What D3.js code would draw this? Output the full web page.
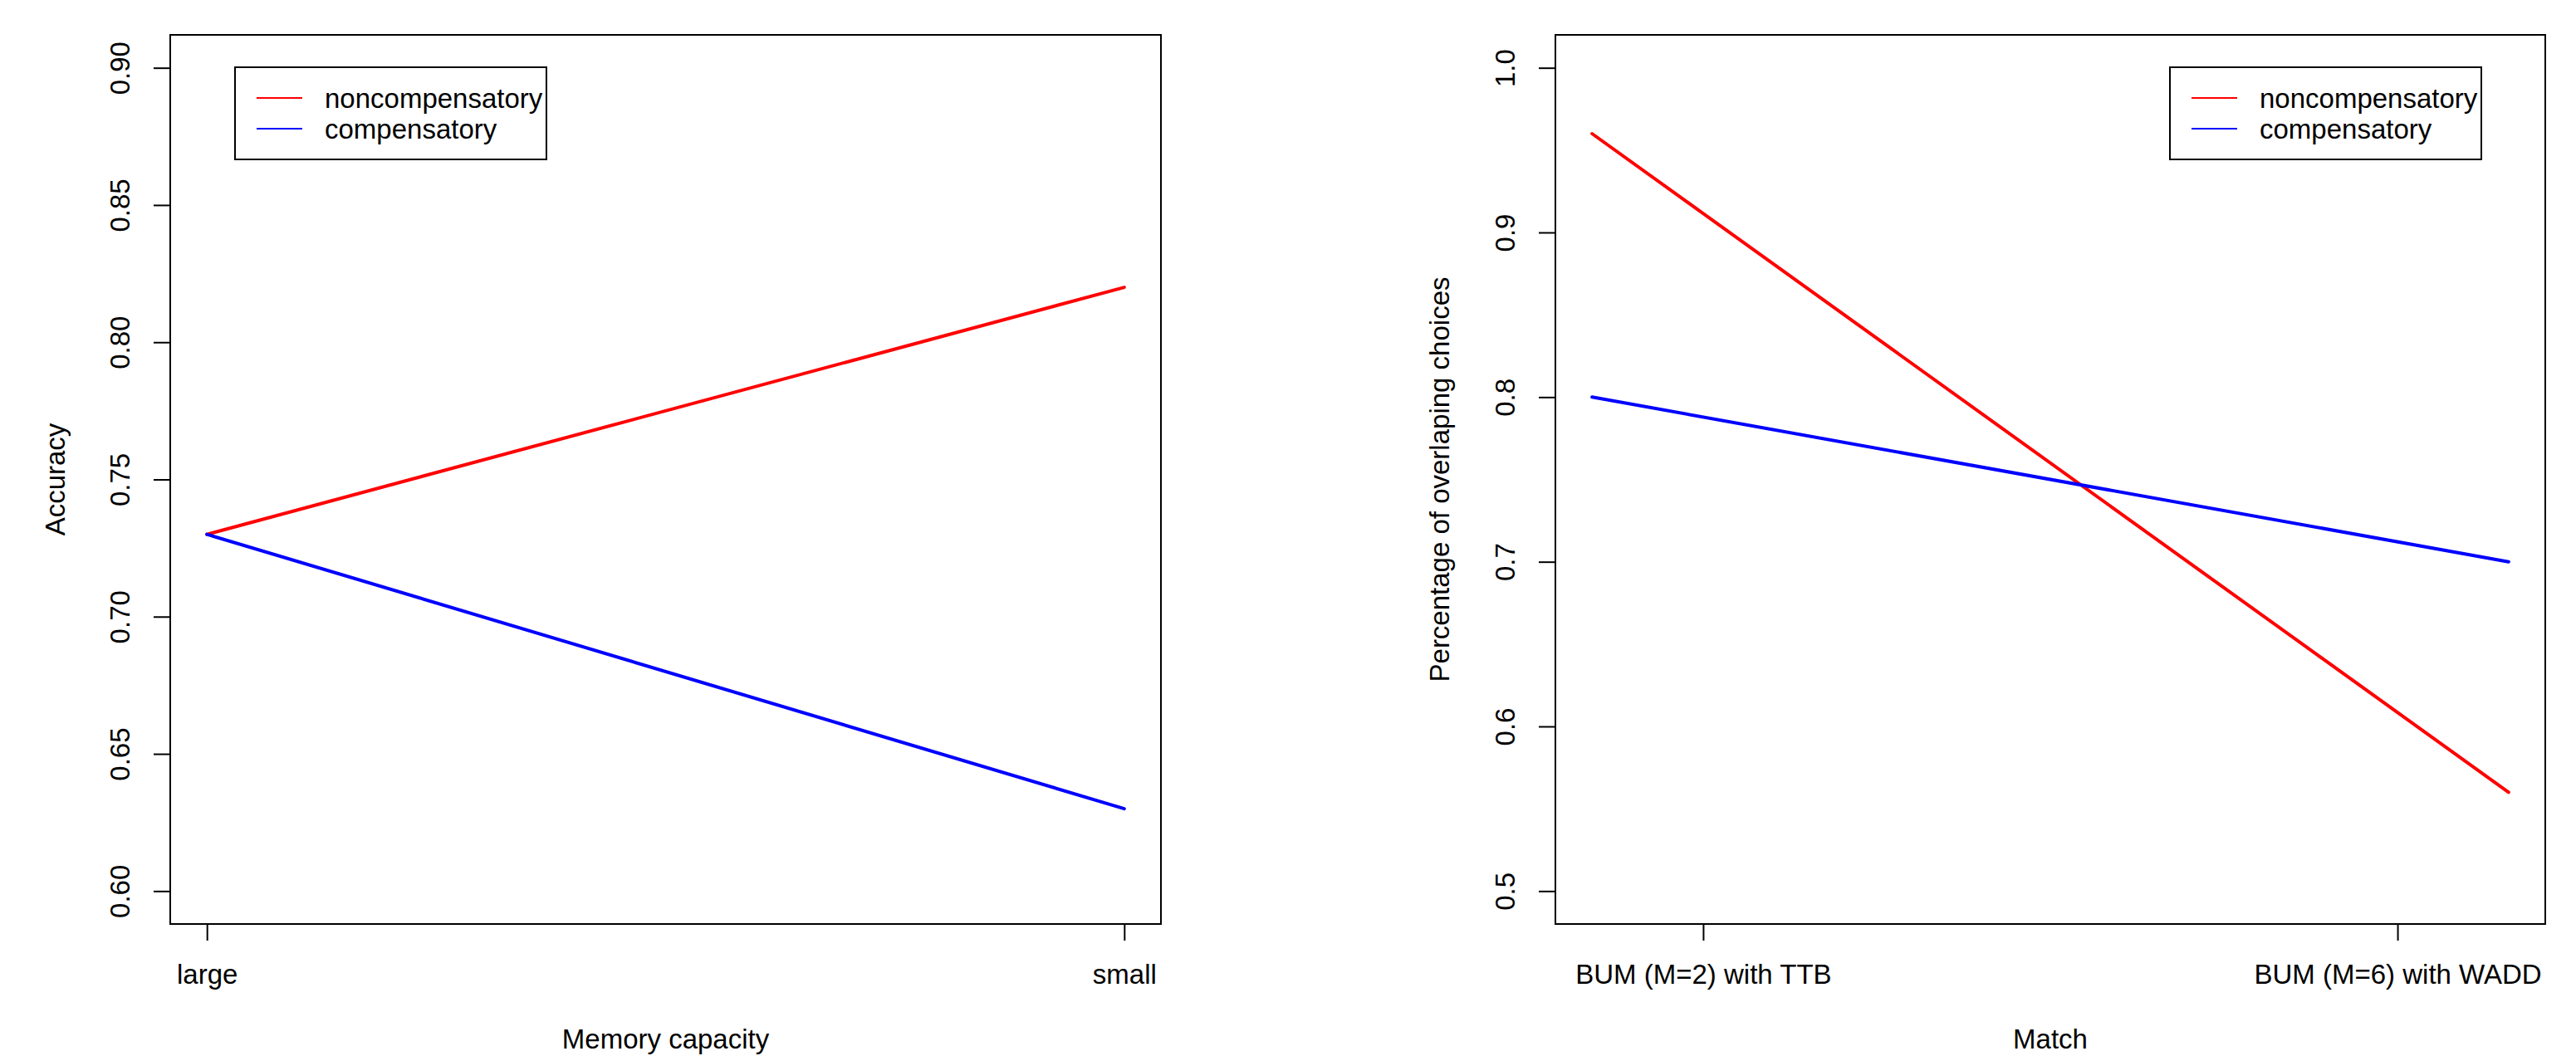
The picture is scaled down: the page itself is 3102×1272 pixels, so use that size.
<!DOCTYPE html>
<html>
<head>
<meta charset="utf-8">
<script src="https://d3js.org/d3.v7.min.js"></script>
<style>
  body { margin: 0; background: #fff; }
  svg { display: block; font-family: "Liberation Sans", Arial, Helvetica, sans-serif; }
  .axis text { font-size: 33px; fill: #000; font-family: "Liberation Sans", Arial, Helvetica, sans-serif; }
  .axis line, .axis path { stroke: #000; stroke-width: 2px; }
</style>
</head>
<body>
<svg id="chart"></svg>
<script>
// ---- data ----
var seriesNames = ["noncompensatory", "compensatory"];
var seriesColors = ["#ff0000", "#0000ff"];

var memCategories = ["large", "small"];
var memTickPos = [1, 2];
var memX = [1, 2];
var memNoncomp = [0.73, 0.82];
var memComp = [0.73, 0.63];
var memYTicks = [0.60, 0.65, 0.70, 0.75, 0.80, 0.85, 0.90];

var matchCategories = ["BUM (M=2) with TTB", "BUM (M=6) with WADD"];
var matchTickPos = [1, 2];
var matchX = [0.84, 2.16];
var matchNoncomp = [0.96, 0.56];
var matchComp = [0.80, 0.70];
var matchYTicks = [0.5, 0.6, 0.7, 0.8, 0.9, 1.0];

// ---- layout ----
var W = 3102, H = 1272;
var plotTop = 42, plotBottom = 1113;

var svg = d3.select("#chart").attr("width", W).attr("height", H);

// R style: pad data range by 4% on each side
function pad(ext) {
  var r = ext[1] - ext[0];
  return [ext[0] - 0.04 * r, ext[1] + 0.04 * r];
}

function panel(opt) {
  var x = d3.scaleLinear().domain(pad(d3.extent(opt.xs))).range([opt.left, opt.right]);
  var y = d3.scaleLinear().domain(pad(d3.extent(opt.yTicks))).range([plotBottom, plotTop]);

  var g = svg.append("g");

  // y axis
  var yAxis = d3.axisLeft(y).tickValues(opt.yTicks).tickSize(20).tickSizeOuter(0)
    .tickFormat(d3.format(opt.yFormat));
  var ya = g.append("g").attr("class", "axis")
    .attr("transform", "translate(" + opt.left + ",0)")
    .call(yAxis);
  ya.select(".domain").remove();
  ya.selectAll(".tick text")
    .attr("x", null).attr("dy", null)
    .attr("text-anchor", "middle")
    .attr("transform", "translate(-49,0) rotate(-90)");

  // x axis
  var xAxis = d3.axisBottom(x).tickValues(opt.tickPos).tickSize(20).tickSizeOuter(0)
    .tickFormat(function(d, i) { return opt.categories[i]; });
  var xa = g.append("g").attr("class", "axis")
    .attr("transform", "translate(0," + plotBottom + ")")
    .call(xAxis);
  xa.select(".domain").remove();
  xa.selectAll(".tick text").attr("y", 72).attr("dy", null);

  // plot box
  g.append("rect")
    .attr("x", opt.left).attr("y", plotTop)
    .attr("width", opt.right - opt.left).attr("height", plotBottom - plotTop)
    .attr("fill", "none").attr("stroke", "#000").attr("stroke-width", 2);

  // lines
  var line = d3.line().x(function(d, i) { return x(opt.xs[i]); }).y(function(d) { return y(d); });
  [opt.noncomp, opt.comp].forEach(function(vals, k) {
    g.append("path").datum(vals)
      .attr("d", line)
      .attr("fill", "none")
      .attr("stroke", seriesColors[k])
      .attr("stroke-width", 4)
      .attr("stroke-linecap", "round");
  });

  // axis titles
  g.append("text")
    .attr("x", (opt.left + opt.right) / 2).attr("y", 1263)
    .attr("text-anchor", "middle").attr("font-size", 33)
    .text(opt.xTitle);
  g.append("text")
    .attr("transform", "translate(" + opt.yTitleX + "," + ((plotTop + plotBottom) / 2) + ") rotate(-90)")
    .attr("text-anchor", "middle").attr("font-size", 33)
    .text(opt.yTitle);

  // legend
  var lw = 375, lh = 111;
  var lx = opt.legendRight ? opt.right - 77 - lw : opt.left + 78;
  var ly = 81;
  var leg = g.append("g").attr("transform", "translate(" + lx + "," + ly + ")");
  leg.append("rect").attr("width", lw).attr("height", lh)
    .attr("fill", "#fff").attr("stroke", "#000").attr("stroke-width", 2);
  var item = leg.selectAll(".item").data(seriesNames).enter().append("g")
    .attr("transform", function(d, i) { return "translate(0," + (37 + i * 37) + ")"; });
  item.append("line").attr("x1", 26).attr("x2", 81)
    .attr("stroke", function(d, i) { return seriesColors[i]; }).attr("stroke-width", 2);
  item.append("text").attr("x", 108).attr("y", 12).attr("font-size", 33)
    .text(function(d) { return d; });
}

panel({
  left: 205, right: 1398,
  xs: memX, tickPos: memTickPos, categories: memCategories,
  noncomp: memNoncomp, comp: memComp,
  yTicks: memYTicks, yFormat: ".2f",
  xTitle: "Memory capacity", yTitle: "Accuracy", yTitleX: 78,
  legendRight: false
});

panel({
  left: 1873, right: 3065,
  xs: matchX, tickPos: matchTickPos, categories: matchCategories,
  noncomp: matchNoncomp, comp: matchComp,
  yTicks: matchYTicks, yFormat: ".1f",
  xTitle: "Match", yTitle: "Percentage of overlaping choices", yTitleX: 1745,
  legendRight: true
});
</script>
</body>
</html>
